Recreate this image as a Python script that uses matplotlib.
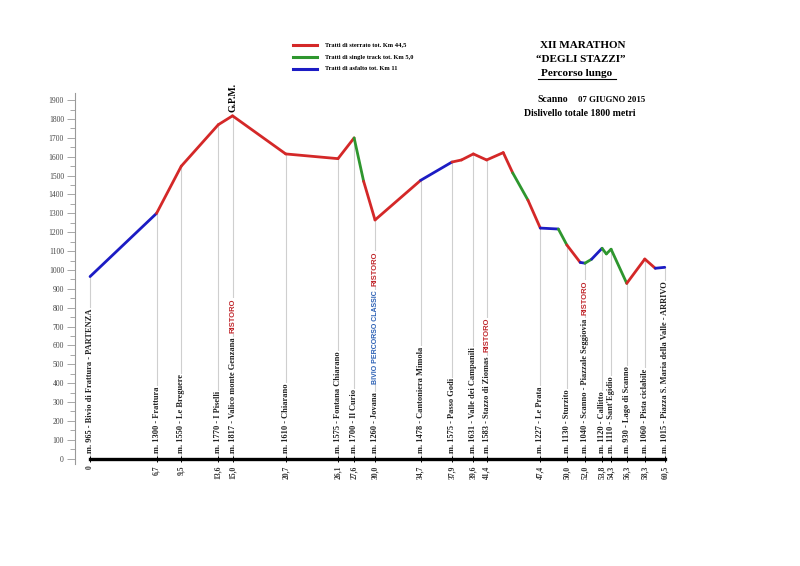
import numpy as np
import matplotlib.pyplot as plt
from matplotlib.lines import Line2D
from matplotlib.ticker import MultipleLocator

# stazioni del percorso: posizione sul grafico (km), quota, nome, etichetta km
x_staz = [0, 7.0, 9.6, 13.5, 15.0, 20.6, 26.1, 27.8, 30.0, 34.8, 38.1, 40.35, 41.75,
          47.4, 50.2, 52.1, 53.9, 54.85, 56.5, 58.4, 60.5]
quote_staz = [965, 1300, 1550, 1770, 1817, 1610, 1575, 1700, 1260, 1478, 1575, 1631, 1583,
              1227, 1130, 1040, 1120, 1110, 930, 1060, 1015]
nomi_staz = ["Bivio di Frattura - PARTENZA", "Frattura", "Le Breguere", "I Piselli",
             "Valico monte Genzana", "Chiarano", "Fontana Chiarano", "Il Curio", "Jovana",
             "Cantoniera Mimola", "Passo Godi", "Valle dei Campanili", "Stazzo di Ziomas",
             "Le Prata", "Sturzito", "Scanno - Piazzale Seggiovia", "Callitto", "Sant'Egidio",
             "Lago di Scanno", "Pista ciclabile", "Piazza S. Maria della Valle - ARRIVO"]
km_labels = ["0", "6,7", "9,5", "13,6", "15,0", "20,7", "26,1", "27,6", "30,0", "34,7", "37,9",
             "39,6", "41,4", "47,4", "50,0", "52,0", "53,8", "54,3", "56,3", "58,3", "60,5"]
ristori = ["Valico monte Genzana", "Jovana", "Stazzo di Ziomas", "Scanno - Piazzale Seggiovia"]

# profilo altimetrico
km_prof = [0, 7.0, 9.6, 13.5, 15.0, 20.6, 26.1, 27.8, 28.8, 30.0, 34.8, 38.1, 39.1, 40.35,
           41.75, 43.5, 44.5, 46.1, 47.4, 49.3, 50.2, 51.6, 52.1, 52.8, 53.9, 54.35, 54.85,
           56.5, 58.4, 59.5, 60.5]
quota_prof = [965, 1300, 1550, 1770, 1817, 1615, 1590, 1700, 1470, 1265, 1475, 1572, 1583,
              1615, 1583, 1622, 1514, 1370, 1222, 1217, 1132, 1040, 1036, 1057, 1115, 1085,
              1110, 929, 1058, 1009, 1014]
# tipo di tratto: S = sterrato, T = single track, A = asfalto
tratti = ["A", "S", "S", "S", "S", "S", "S", "T", "S", "S", "A", "S", "S", "S", "S", "S",
          "T", "S", "A", "T", "S", "A", "T", "A", "T", "T", "T", "S", "S", "A"]

colori = {"S": "#d42828", "T": "#2e962e", "A": "#1c1cc4"}
serif = "Liberation Serif"
sans = "Liberation Sans"

fig = plt.figure(figsize=(8, 5.66), dpi=100)
ax = fig.add_axes([0.0938, 0.1797, 0.806, 0.656])
ax.set_xlim(-1.58, 66.3)

# linee verticali delle stazioni
quota_interp = np.interp(x_staz, km_prof, quota_prof)
for k, q in zip(x_staz, quota_interp):
    ax.plot([k, k], [0, q], color="#cfcfcf", lw=0.8, zorder=1)

# profilo colorato per tipo di tratto
for i, t in enumerate(tratti):
    ax.plot(km_prof[i:i + 2], quota_prof[i:i + 2], color=colori[t], lw=2.0,
            solid_capstyle="round", zorder=3)

# linea di base
ax.plot([0, 60.5], [0, 0], color="black", lw=2.4, zorder=4)
ax.plot(x_staz, [0] * len(x_staz), ls="none", marker="|", ms=5, mew=0.7,
        color="black", zorder=4)

# etichette delle stazioni
box = dict(boxstyle="square,pad=0.05", fc="white", ec="none")
for k, q, n in zip(x_staz, quote_staz, nomi_staz):
    t = ax.annotate(f"m. {q} - {n}", xy=(k, 0), xytext=(0, 4), textcoords="offset points",
                    rotation=90, ha="center", va="bottom", fontsize=6, fontweight="bold",
                    family=serif, color="#222222", zorder=5, bbox=box)
    if n == "Jovana":
        t = ax.annotate("BIVIO PERCORSO CLASSIC", xy=(0.5, 1), xycoords=t, xytext=(0, 6),
                        textcoords="offset points", rotation=90, ha="center", va="bottom",
                        fontsize=5, fontweight="bold", family=sans, color="#2a5fb4", zorder=5,
                        bbox=box)
    if n in ristori:
        ax.annotate("RISTORO", xy=(0.5, 1), xycoords=t, xytext=(0, 3),
                    textcoords="offset points", rotation=90, ha="center", va="bottom",
                    fontsize=5.5, fontweight="bold", family=sans, color="#c0282d", zorder=5,
                    bbox=box)

ax.text(15.0, 1835, "G.P.M.", rotation=90, ha="center", va="bottom", fontsize=7,
        fontweight="bold", family=serif)

# assi
ax.set_xticks(x_staz)
ax.set_xticklabels(km_labels, rotation=90, fontsize=5.5, fontweight="bold", family=serif,
                   color="#333333")
ax.tick_params(axis="x", length=0, pad=1)
ax.yaxis.set_major_locator(MultipleLocator(100))
ax.yaxis.set_minor_locator(MultipleLocator(50))
ax.tick_params(axis="y", which="major", length=6, width=0.6, color="#999999", pad=2,
               labelsize=5.5, labelcolor="#444444")
ax.tick_params(axis="y", which="minor", length=3.5, width=0.6, color="#999999")
ax.set_ylim(-30, 1938)
for lab in ax.get_yticklabels():
    lab.set_family(serif)
for s in ["top", "right", "bottom"]:
    ax.spines[s].set_visible(False)
ax.spines["left"].set_color("#999999")
ax.spines["left"].set_linewidth(0.8)

# legenda
leg_testi = ["Tratti di sterrato tot. Km 44,5", "Tratti di single track tot. Km 5,0",
             "Tratti di asfalto tot. Km 11"]
leg_y = [45, 57, 69]
for tp, testo, y in zip(["S", "T", "A"], leg_testi, leg_y):
    yf = 1 - y / 566
    fig.add_artist(Line2D([293 / 800, 317 / 800], [yf, yf], color=colori[tp], lw=2.2))
    fig.text(325 / 800, yf, testo, fontsize=4.6, fontweight="bold", family=serif, va="center")

# titolo
fig.text(583 / 800, 1 - 45 / 566, "XII MARATHON", fontsize=8, fontweight="bold", family=serif,
         ha="center", va="center")
fig.text(581 / 800, 1 - 60 / 566, "\u201cDEGLI STAZZI\u201d", fontsize=8, fontweight="bold",
         family=serif, ha="center", va="center")
fig.text(577 / 800, 1 - 73 / 566, "Percorso lungo", fontsize=8, fontweight="bold",
         family=serif, ha="center", va="center")
fig.add_artist(Line2D([538 / 800, 616 / 800], [1 - 79 / 566, 1 - 79 / 566], color="black", lw=0.8))
fig.text(537 / 800, 1 - 100 / 566, "Scanno", fontsize=7, fontweight="bold", family=serif,
         va="center")
fig.text(578 / 800, 1 - 100 / 566, "07 GIUGNO 2015", fontsize=6.3, fontweight="bold",
         family=serif, va="center")
fig.text(524 / 800, 1 - 114 / 566, "Dislivello totale 1800 metri", fontsize=7,
         fontweight="bold", family=serif, va="center")

fig.savefig("out.png", dpi=100, facecolor="white")
